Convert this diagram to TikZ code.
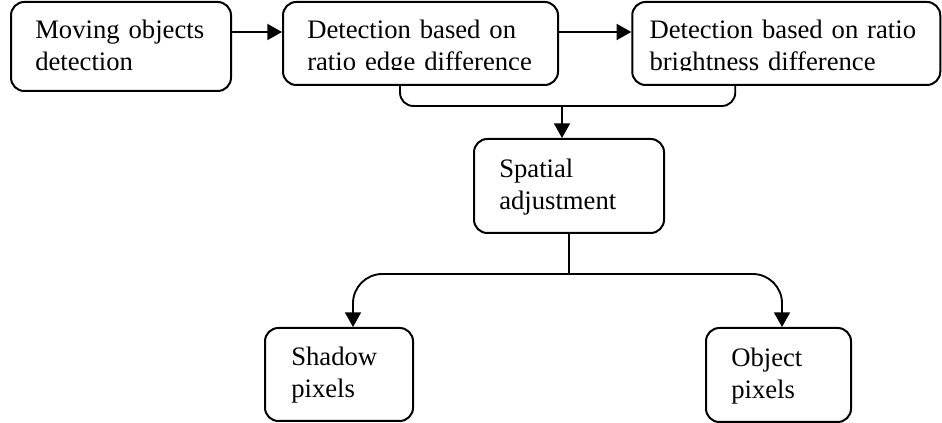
\documentclass[tikz,border=0pt]{standalone}
\usepackage{fontspec}
\setmainfont{Liberation Serif}
\usetikzlibrary{arrows.meta,positioning,calc}

\begin{document}
\begin{tikzpicture}[
    x=0.75pt, y=-0.75pt,
    % global styles
    box/.style={draw, line width=1.5pt, rectangle, rounded corners=10pt}, % rounded step box
    box text/.style={anchor=base west, inner sep=0pt, text width=240pt, align=left,
                     font=\fontsize{20}{24}\selectfont},
    % connector lines: plain link and link ending in a filled triangle
    link/.style={line width=1.4pt},
    flow/.style={link, -{Triangle[length=11pt, width=12pt]}}
]
    \useasboundingbox (0,0) rectangle (942,423);

    % --- 1. top row of detection steps ---
    \node[box, minimum width=165pt, minimum height=66.75pt] (moving) at (121,46.5) {};
    \node[box text] at ($(moving.north west) + (25,38)$) {Moving objects\\detection};

    \node[box, minimum width=206.25pt, minimum height=62.25pt] (edge) at (420.5,43.5) {};
    \begin{scope}
        \clip (edge.north west) rectangle ($(edge.east) + (0,26.5)$);
        \node[box text] at ($(edge.north west) + (25,38)$) {Detection based on\\ratio edge difference};
    \end{scope}

    \node[box, minimum width=231pt, minimum height=62.25pt] (bright) at (786.25,43.5) {};
    \begin{scope}
        \clip (bright.north west) rectangle ($(bright.east) + (0,27.5)$);
        \node[box text] at ($(bright.north west) + (18,38)$) {Detection based on ratio\\brightness difference};
    \end{scope}

    % --- 2. middle and bottom boxes ---
    \node[box, minimum width=142.5pt, minimum height=70.5pt] (spatial) at (569,186) {};
    \node[box text] at ($(spatial.north west) + (26,40)$) {Spatial\\adjustment};

    \node[box, minimum width=111pt, minimum height=69.75pt] (shadow) at (339,374.5) {};
    \node[box text] at ($(shadow.north west) + (27,39)$) {Shadow\\pixels};

    \node[box, minimum width=108.75pt, minimum height=70.5pt] (object) at (778.5,375) {};
    \node[box text] at ($(object.north west) + (26,40)$) {Object\\pixels};

    % --- 3. connectors ---
    \coordinate (row) at (0,32);
    \draw[flow] (moving.east |- row) -- (edge.west |- row);
    \draw[flow] (edge.east |- row) -- (bright.west |- row);

    % both detections merge into the spatial step
    \coordinate (merge) at (562,106);
    \draw[link, rounded corners=10pt] ($(edge.south) + (-20.5,0)$) |- (merge) -| ($(bright.south) + (-51,0)$);
    \draw[flow] (merge) -- (merge |- spatial.north);

    % split into shadow and object pixels
    \coordinate (split) at (569,274);
    \draw[link] (spatial.south) -- (split);
    \draw[flow, rounded corners=22pt] (split) -| ($(shadow.north) + (14,0)$);
    \draw[flow, rounded corners=22pt] (split) -| ($(object.north) + (3.5,0)$);

\end{tikzpicture}
\end{document}
